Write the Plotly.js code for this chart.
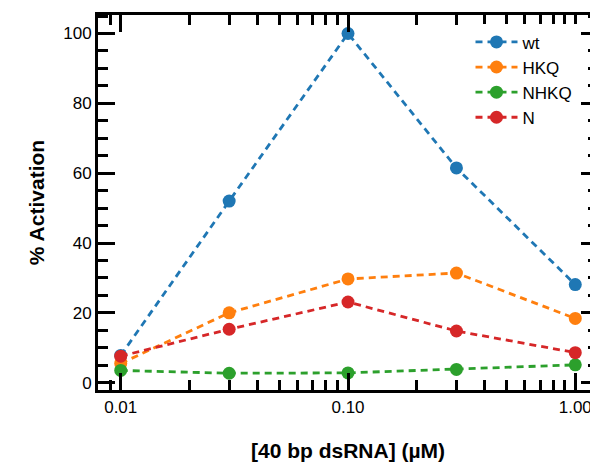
<!DOCTYPE html>
<html>
<head>
<meta charset="utf-8">
<script src="https://cdn.plot.ly/plotly-3.0.1.min.js"></script>
<style>
html,body{margin:0;padding:0;overflow:hidden;background:#fff;}
#chart{width:600px;height:462px;}
</style>
</head>
<body>
<div id="chart"></div>
<script>
// Data
const concentrations = [0.01, 0.03, 0.1, 0.3, 1.0];
const seriesNames = ["wt", "HKQ", "NHKQ", "N"];
const wt   = [7.8, 52.0, 100.0, 61.5, 28.1];
const hkq  = [5.5, 20.0, 29.7, 31.4, 18.4];
const nhkq = [3.5, 2.7, 2.8, 3.8, 5.1];
const nMut = [7.6, 15.3, 23.1, 14.8, 8.6];
const xTickFormat = ".2f";   // tick labels 0.01, 0.10, 1.00
const yTickStep = 20;        // tick labels 0, 20, ..., 100
const yMinorStep = 5;

const colors = ["#1f77b4", "#ff7f0e", "#2ca02c", "#d62728"];
const allSeries = [wt, hkq, nhkq, nMut];

const traces = allSeries.map((vals, i) => ({
  x: concentrations,
  y: vals,
  name: seriesNames[i],
  type: "scatter",
  mode: "lines+markers",
  line: {color: colors[i], width: 2.8, dash: "7px,5px"},
  marker: {color: colors[i], size: 13}
}));

const fontFam = "Arial, Liberation Sans, sans-serif";
const layout = {
  width: 600, height: 462,
  margin: {l: 98, r: 2, t: 15, b: 72},
  font: {family: fontFam, color: "#000", size: 17},
  showlegend: true,
  legend: {x: 0.745, y: 0.975, xanchor: "left", yanchor: "top", itemwidth: 42},
  xaxis: {
    type: "log",
    range: [-2.1, 0.1],
    dtick: 1, tickformat: xTickFormat,
    ticks: "inside", ticklen: 17, tickwidth: 3, tickcolor: "#000",
    showline: true, linewidth: 3, linecolor: "#000", mirror: "allticks",
    showgrid: false, zeroline: false,
    minor: {dtick: "D1", ticks: "inside", ticklen: 10, tickwidth: 3, tickcolor: "#000"},
    title: {text: "<b>[40 bp dsRNA] (µM)</b>", font: {size: 21}}
  },
  yaxis: {
    range: [-2.1, 105.3],
    tick0: 0, dtick: yTickStep,
    ticks: "inside", ticklen: 17, tickwidth: 3, tickcolor: "#000",
    showline: true, linewidth: 3, linecolor: "#000", mirror: "allticks",
    showgrid: false, zeroline: false,
    minor: {dtick: yMinorStep, ticks: "inside", ticklen: 10, tickwidth: 3, tickcolor: "#000"},
    title: {text: "<b>% Activation</b>", font: {size: 21}}
  }
};

Plotly.newPlot("chart", traces, layout, {displayModeBar: false, staticPlot: true});
</script>
</body>
</html>
